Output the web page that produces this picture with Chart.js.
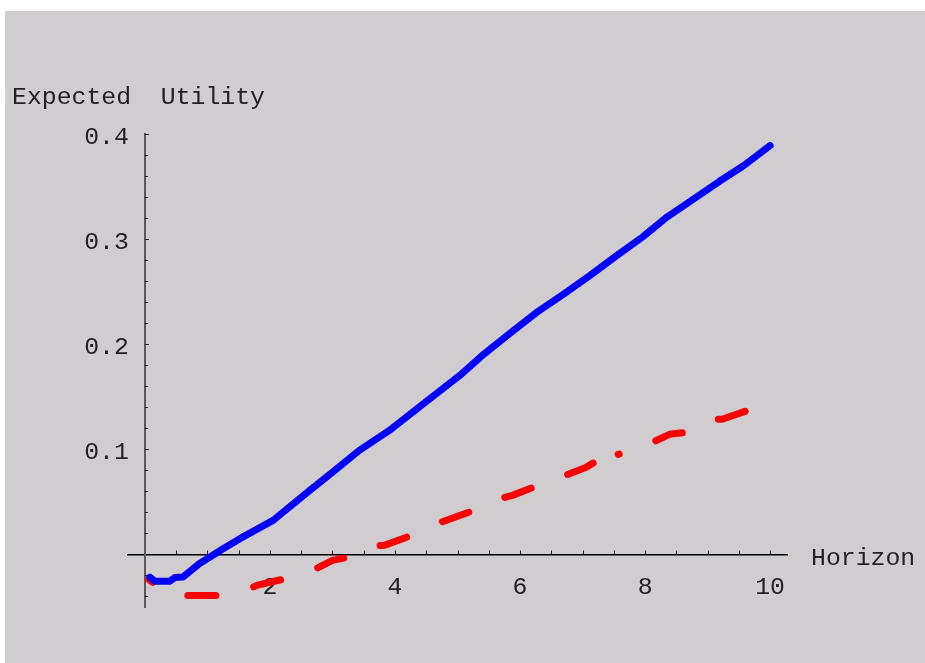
<!DOCTYPE html>
<html>
<head>
<meta charset="utf-8">
<script src="https://cdn.jsdelivr.net/npm/chart.js@4"></script>
<style>
  body { margin: 0; background: #fff; }
</style>
</head>
<body>
<canvas id="chart" width="925" height="663"></canvas>
<script>
// --- data ---
const blueX = [0.08, 0.16, 0.40, 0.48, 0.61, 0.87, 1.25, 1.52, 2.05, 2.64, 3.04, 3.43, 3.91, 4.47, 5.03, 5.43, 5.83, 6.26, 6.68, 7.11, 7.54, 7.96, 8.35, 8.75, 9.19, 9.58, 10.0];
const blueY = [-0.0216, -0.0254, -0.0254, -0.0220, -0.0215, -0.0089, 0.0054, 0.0150, 0.0324, 0.061, 0.080, 0.099, 0.118, 0.144, 0.170, 0.191, 0.210, 0.230, 0.247, 0.265, 0.284, 0.302, 0.321, 0.337, 0.355, 0.370, 0.389];

const redX = [0.06, 0.13, 0.3, 0.5, 0.59, 1.15, 1.35, 1.65, 1.79, 2.19, 2.68, 3.0, 3.23, 3.67, 3.83, 4.22, 4.68, 5.22, 5.69, 5.88, 6.17, 6.68, 7.06, 7.16, 7.57, 8.12, 8.39, 8.66, 9.11, 9.23, 9.65, 10.0];
const redY = [-0.0238, -0.0267, -0.035, -0.039, -0.039, -0.039, -0.038, -0.0333, -0.0295, -0.0238, -0.0152, -0.0057, -0.0029, 0.0086, 0.0086, 0.0171, 0.0295, 0.041, 0.0533, 0.0562, 0.0629, 0.0743, 0.0829, 0.0867, 0.0952, 0.1067, 0.1143, 0.1162, 0.1286, 0.1286, 0.1371, 0.144];

const xTicks = [0.5, 1, 1.5, 2, 2.5, 3, 3.5, 4, 4.5, 5, 5.5, 6, 6.5, 7, 7.5, 8, 8.5, 9, 9.5, 10];
const xLabels = [2, 4, 6, 8, 10];
const yTicks = [-0.04, -0.02, 0.02, 0.04, 0.06, 0.08, 0.1, 0.12, 0.14, 0.16, 0.18, 0.2, 0.22, 0.24, 0.26, 0.28, 0.3, 0.32, 0.34, 0.36, 0.38, 0.4];
const yLabels = [0.1, 0.2, 0.3, 0.4];

const yTitle = "Expected  Utility";
const xTitle = "Horizon";

const FONT = '"Liberation Mono", "DejaVu Sans Mono", monospace';
const near = (a, b) => Math.abs(a - b) < 1e-9;

const toPoints = (xs, ys) => xs.map((x, i) => ({ x: x, y: ys[i] }));

// background panel, tick marks, y tick labels and the two axis titles
const decor = {
  id: "decor",
  beforeDraw(chart) {
    const ctx = chart.ctx;
    ctx.save();
    ctx.fillStyle = "#d1ccd0";
    ctx.fillRect(5, 11, 920, 652);
    ctx.restore();
  },
  beforeDatasetsDraw(chart) {
    const ctx = chart.ctx;
    const xs = chart.scales.x, ys = chart.scales.y;
    const x0 = xs.getPixelForValue(0), y0 = ys.getPixelForValue(0);
    ctx.save();
    ctx.strokeStyle = "#222";
    ctx.lineWidth = 1;
    ctx.beginPath();
    xTicks.forEach(v => {
      const px = Math.round(xs.getPixelForValue(v)) + 0.5;
      ctx.moveTo(px, y0);
      ctx.lineTo(px, y0 - 4);
    });
    yTicks.forEach(v => {
      const py = Math.round(ys.getPixelForValue(v)) + 0.5;
      const len = yLabels.some(l => near(l, v)) ? 4 : 3;
      ctx.moveTo(x0, py);
      ctx.lineTo(x0 + len, py);
    });
    ctx.stroke();

    // y tick labels sit a little left of the axis
    ctx.font = "24.8px " + FONT;
    ctx.fillStyle = "#222";
    ctx.textAlign = "right";
    ctx.textBaseline = "middle";
    yLabels.forEach(v => {
      ctx.fillText(v.toFixed(1), x0 - 16, ys.getPixelForValue(v) + 3);
    });
    ctx.restore();
  },
  afterDraw(chart) {
    const ctx = chart.ctx;
    ctx.save();
    ctx.font = "24.8px " + FONT;
    ctx.fillStyle = "#222";
    ctx.textBaseline = "alphabetic";
    ctx.fillText(yTitle, 12, 104);
    ctx.fillText(xTitle, 811, 565);
    ctx.restore();
  }
};

const ctx = document.getElementById("chart").getContext("2d");
const chart = new Chart(ctx, {
  type: "scatter",
  data: {
    datasets: [{
      label: "blue",
      data: toPoints(blueX, blueY),
      showLine: true,
      borderColor: "#0000ff",
      borderWidth: 7,
      borderCapStyle: "round",
      borderJoinStyle: "round",
      pointRadius: 0,
      tension: 0
    }, {
      label: "red",
      data: toPoints(redX, redY),
      showLine: true,
      borderColor: "#ff0000",
      borderWidth: 7,
      borderCapStyle: "round",
      borderJoinStyle: "round",
      borderDash: [28, 39],
      pointRadius: 0,
      tension: 0,
      segment: {
        // the dash pattern restarts near x = 7.57 in the original
        borderDashOffset: c => c.p0DataIndex >= 24 ? 27 : 23
      }
    }]
  },
  options: {
    responsive: false,
    animation: false,
    clip: false,
    layout: { padding: { left: 128, right: 138, top: 134, bottom: 56 } },
    plugins: {
      legend: { display: false },
      tooltip: { enabled: false }
    },
    scales: {
      x: {
        type: "linear",
        min: -0.27,
        max: 10.27,
        position: { y: 0 },
        afterBuildTicks: s => { s.ticks = xTicks.map(v => ({ value: v })); },
        grid: { drawOnChartArea: false, drawTicks: false },
        border: { display: true, color: "#000", width: 1.5 },
        ticks: {
          autoSkip: false,
          maxRotation: 0,
          padding: 18,
          color: "#222",
          font: { family: FONT, size: 24.8 },
          callback: v => xLabels.some(l => near(l, v)) ? String(v) : ""
        }
      },
      y: {
        type: "linear",
        min: -0.05,
        max: 0.4,
        position: { x: 0 },
        afterBuildTicks: s => { s.ticks = yTicks.map(v => ({ value: v })); },
        grid: { drawOnChartArea: false, drawTicks: false },
        border: { display: true, color: "#5a5a5a", width: 2 },
        ticks: { display: false }
      }
    }
  },
  plugins: [decor]
});
</script>
</body>
</html>
